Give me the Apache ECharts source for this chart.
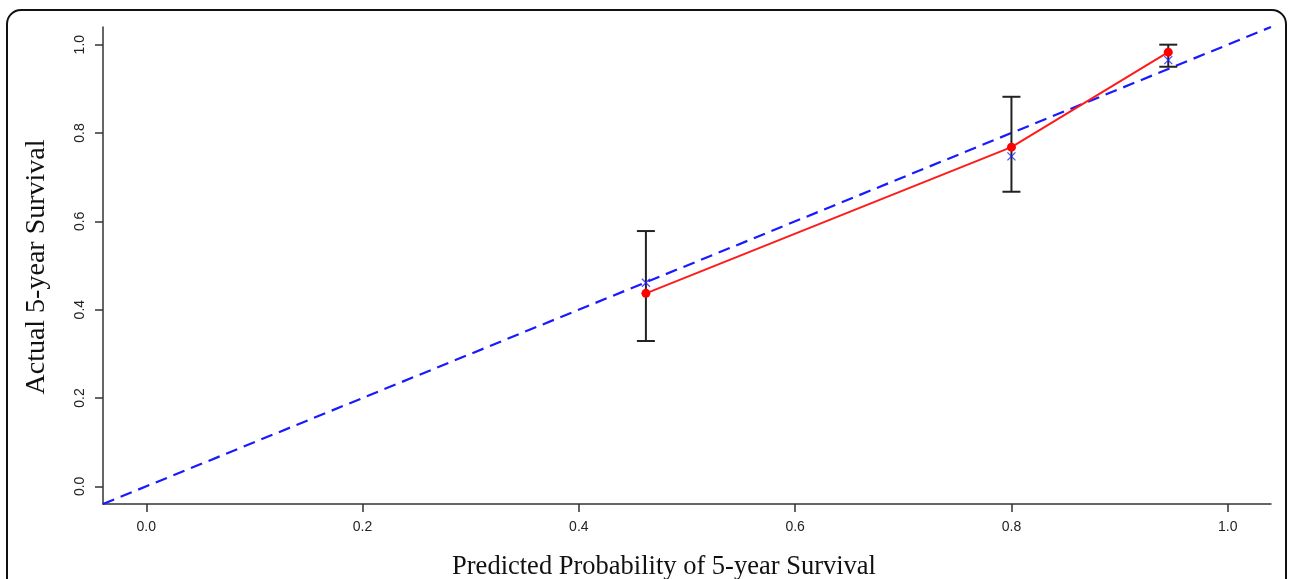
<!DOCTYPE html>
<html>
<head>
<meta charset="utf-8">
<script src="https://cdn.jsdelivr.net/npm/echarts@6/dist/echarts.min.js"></script>
<style>
  html, body { margin: 0; padding: 0; background: #fff; }
  #main { width: 1289px; height: 579px; }
</style>
</head>
<body>
<div id="main"></div>
<script>
// calibration values
const predicted = [0.462, 0.800, 0.945];
const observed = [0.437, 0.768, 0.983];
const biasCorrected = [0.461, 0.747, 0.965];
const ciLower = [0.329, 0.667, 0.950];
const ciUpper = [0.578, 0.882, 1.000];
const idealLine = [[-0.04, -0.04], [1.04, 1.04]];
const tickValues = [0, 0.2, 0.4, 0.6, 0.8, 1.0];

const chart = echarts.init(document.getElementById('main'), null, { renderer: 'canvas' });

const axisCommon = {
  type: 'value',
  min: -0.04,
  max: 1.04,
  splitLine: { show: false },
  axisLine: { show: true, onZero: false, lineStyle: { color: '#333', width: 1.5 } },
  axisTick: { show: true, length: 8, customValues: tickValues, lineStyle: { color: '#333', width: 1.5 } },
};

chart.setOption({
  animation: false,
  grid: { left: 103, right: 18, top: 27, bottom: 75 },
  xAxis: Object.assign({}, axisCommon, {
    axisLabel: {
      customValues: tickValues,
      formatter: v => v.toFixed(1),
      fontFamily: 'Liberation Sans, Arial, sans-serif',
      fontSize: 14, color: '#222', margin: 16
    }
  }),
  yAxis: Object.assign({}, axisCommon, {
    axisLabel: {
      customValues: tickValues,
      formatter: v => v.toFixed(1),
      rotate: 90,
      fontFamily: 'Liberation Sans, Arial, sans-serif',
      fontSize: 14, color: '#222', margin: 16
    }
  }),
  graphic: [
    {
      type: 'rect', silent: true,
      shape: { x: 7, y: 10, width: 1279, height: 620, r: 14 },
      style: { fill: 'none', stroke: '#111', lineWidth: 2 }
    },
    {
      type: 'text', x: 37, y: 267, rotation: Math.PI / 2,
      style: {
        text: 'Actual 5-year Survival', align: 'center', verticalAlign: 'middle',
        font: '28px "Liberation Serif", "Times New Roman", serif', fill: '#111'
      }
    },
    {
      type: 'text', x: 664, y: 567,
      style: {
        text: 'Predicted Probability of 5-year Survival', align: 'center', verticalAlign: 'middle',
        font: '26.5px "Liberation Serif", "Times New Roman", serif', fill: '#111'
      }
    }
  ],
  series: [
    {
      name: 'ideal', type: 'line', data: idealLine, symbol: 'none',
      lineStyle: { color: '#1a1aff', width: 2.2, type: [12, 7] }, z: 2
    },
    {
      name: 'ci', type: 'custom', z: 3,
      data: predicted.map((p, i) => [p, ciLower[i], ciUpper[i]]),
      renderItem: function (params, api) {
        const lo = api.coord([api.value(0), api.value(1)]);
        const hi = api.coord([api.value(0), api.value(2)]);
        const w = 9;
        const st = { stroke: '#222', lineWidth: 2 };
        return {
          type: 'group',
          children: [
            { type: 'line', shape: { x1: lo[0], y1: lo[1], x2: hi[0], y2: hi[1] }, style: st },
            { type: 'line', shape: { x1: lo[0] - w, y1: lo[1], x2: lo[0] + w, y2: lo[1] }, style: st },
            { type: 'line', shape: { x1: hi[0] - w, y1: hi[1], x2: hi[0] + w, y2: hi[1] }, style: st }
          ]
        };
      }
    },
    {
      name: 'observed', type: 'line', z: 4,
      data: predicted.map((p, i) => [p, observed[i]]),
      symbol: 'circle', symbolSize: 9,
      itemStyle: { color: '#ff0000' },
      lineStyle: { color: '#ff1a1a', width: 2 }
    },
    {
      name: 'bias corrected', type: 'scatter', z: 5,
      data: predicted.map((p, i) => [p, biasCorrected[i]]),
      symbol: 'path://M0,0L10,10M10,0L0,10', symbolSize: 8,
      itemStyle: { color: 'none', borderColor: '#2020ff', borderWidth: 1.3 }
    }
  ]
});
</script>
</body>
</html>
